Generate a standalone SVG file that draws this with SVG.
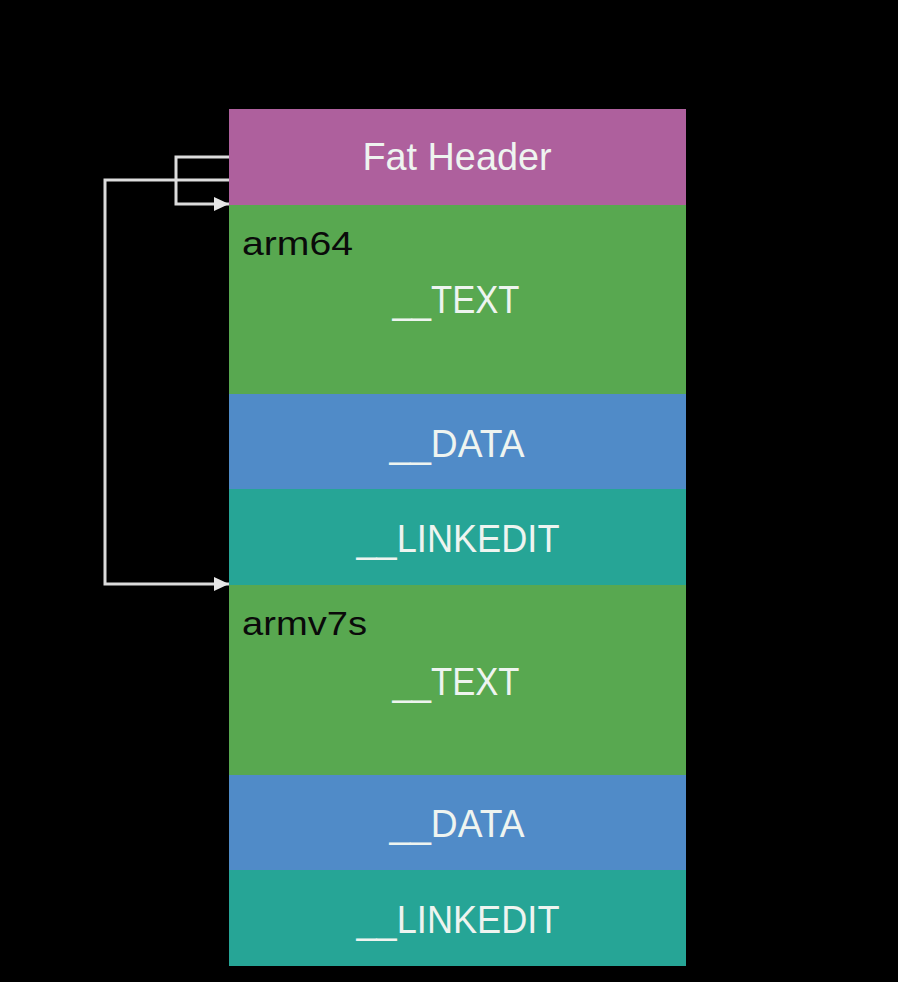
<svg xmlns="http://www.w3.org/2000/svg" width="898" height="982" viewBox="0 0 898 982">
<style>
.lbl{font-family:"Liberation Sans",Arial,sans-serif;font-size:38px;fill:#eef4f0;text-anchor:middle}
.arch{font-family:"Liberation Sans",Arial,sans-serif;font-size:33px;fill:#0a0a0a}
.conn{fill:none;stroke:#dcdcdc;stroke-width:3}
</style>
<defs>
<marker id="ah" markerWidth="15" markerHeight="14" refX="15" refY="7" orient="auto" markerUnits="userSpaceOnUse" viewBox="0 0 15 14">
<path d="M0,0 L15,7 L0,14 z" fill="#e6e6e6"/>
</marker>
</defs>
<rect width="898" height="982" fill="#000"/>
<g id="fat-header"><rect x="229" y="109" width="457" height="96" fill="#ae609d"/><text class="lbl" x="457" y="170" textLength="189" lengthAdjust="spacingAndGlyphs">Fat Header</text></g>
<g id="arm64-text"><rect x="229" y="205" width="457" height="189" fill="#58a850"/><text class="arch" x="242" y="255" textLength="111" lengthAdjust="spacingAndGlyphs">arm64</text><text class="lbl" x="456" y="313" textLength="127" lengthAdjust="spacingAndGlyphs">__TEXT</text></g>
<g id="arm64-data"><rect x="229" y="394" width="457" height="95" fill="#508bc8"/><text class="lbl" x="457" y="457" textLength="135" lengthAdjust="spacingAndGlyphs">__DATA</text></g>
<g id="arm64-linkedit"><rect x="229" y="489" width="457" height="96" fill="#26a596"/><text class="lbl" x="458" y="552" textLength="203" lengthAdjust="spacingAndGlyphs">__LINKEDIT</text></g>
<g id="armv7s-text"><rect x="229" y="585" width="457" height="190" fill="#58a850"/><text class="arch" x="242" y="635" textLength="125" lengthAdjust="spacingAndGlyphs">armv7s</text><text class="lbl" x="456" y="695" textLength="127" lengthAdjust="spacingAndGlyphs">__TEXT</text></g>
<g id="armv7s-data"><rect x="229" y="775" width="457" height="95" fill="#508bc8"/><text class="lbl" x="457" y="837" textLength="135" lengthAdjust="spacingAndGlyphs">__DATA</text></g>
<g id="armv7s-linkedit"><rect x="229" y="870" width="457" height="96" fill="#26a596"/><text class="lbl" x="458" y="933" textLength="203" lengthAdjust="spacingAndGlyphs">__LINKEDIT</text></g>
<g id="connectors">
<path class="conn" d="M229,157 H176 V204 H229" marker-end="url(#ah)"/>
<path class="conn" d="M229,180 H105 V584 H229" marker-end="url(#ah)"/>
</g>
</svg>
